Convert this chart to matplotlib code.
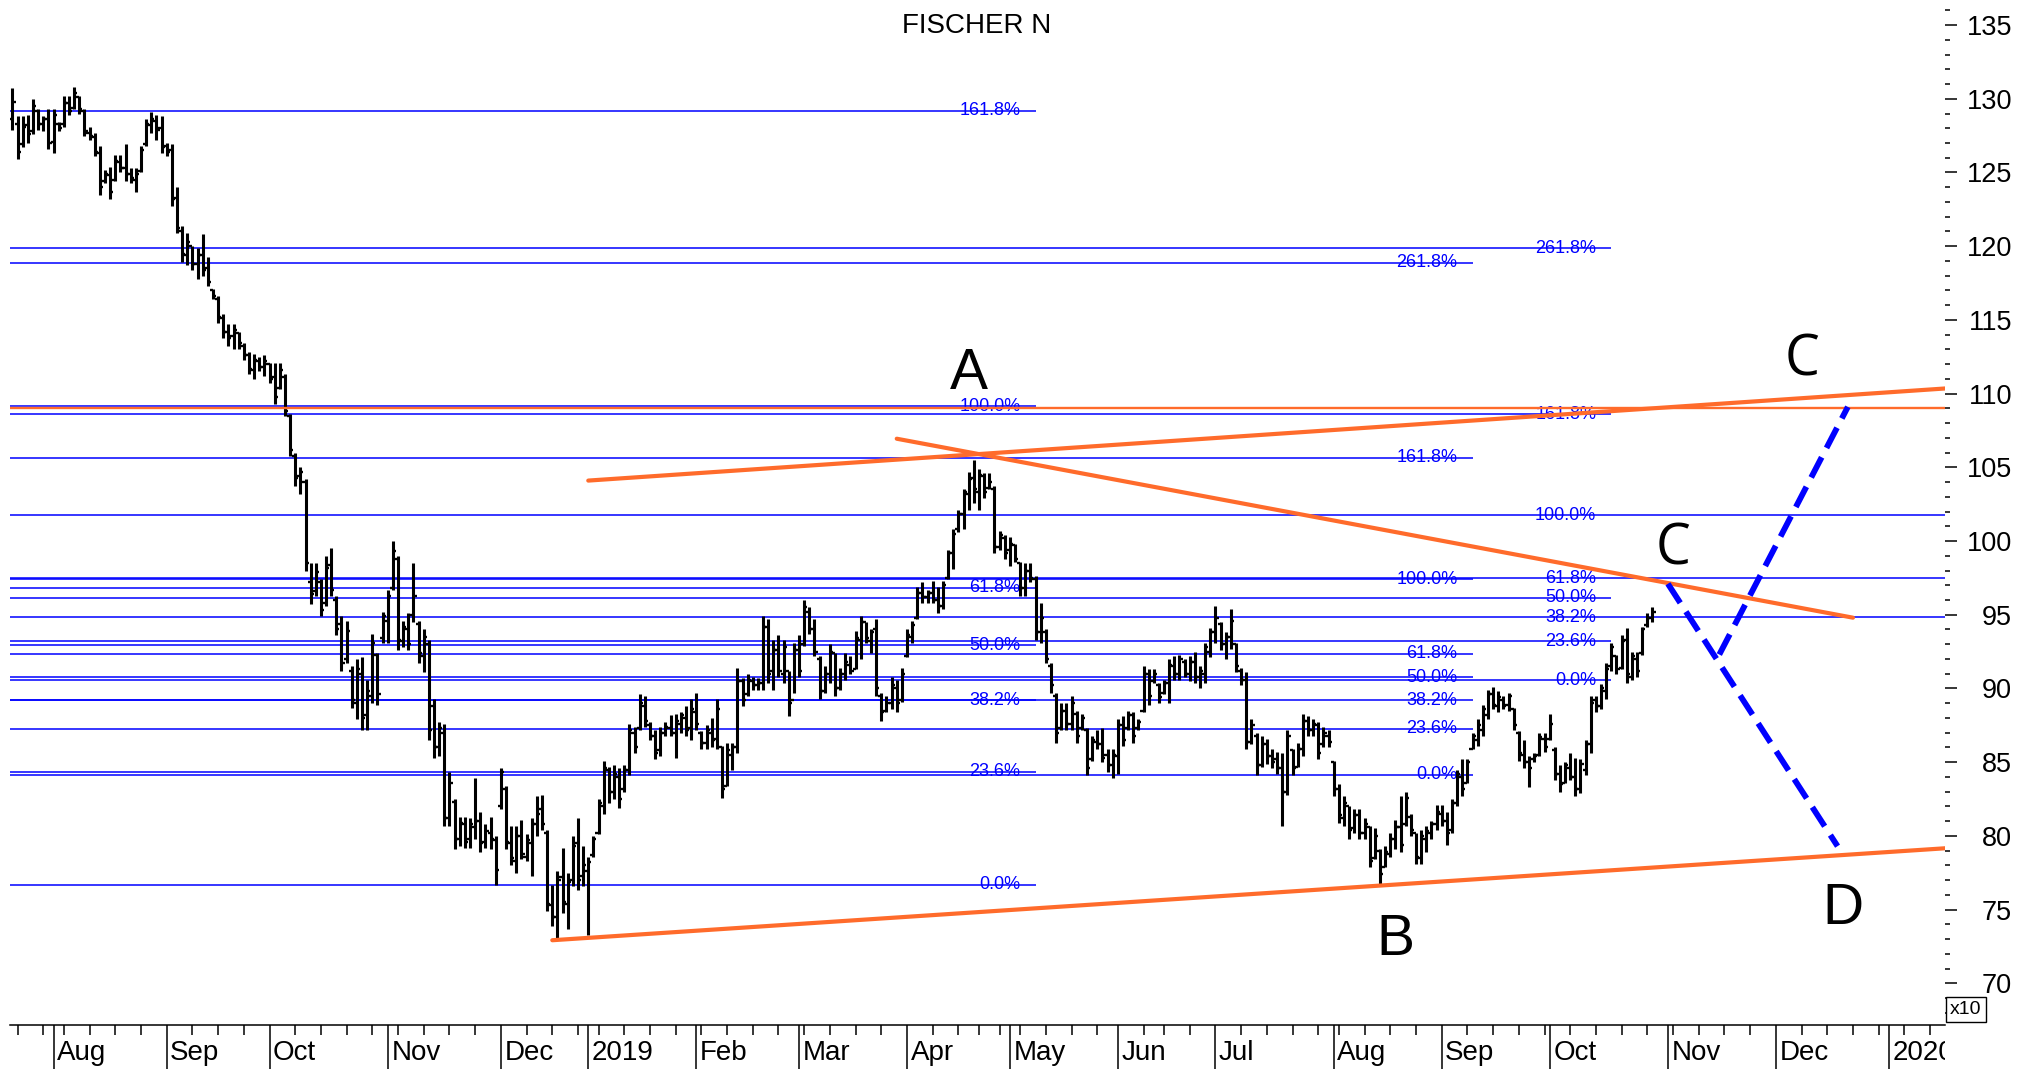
import numpy as np
import pandas as pd
import matplotlib
matplotlib.use("Agg")
import matplotlib.pyplot as plt
from matplotlib.ticker import FixedLocator
from matplotlib.transforms import Bbox, TransformedBbox, ScaledTranslation, blended_transform_factory

plt.rcParams['font.family'] = ['Liberation Sans', 'DejaVu Sans']

# ---------------- data ----------------
TITLE = "FISCHER N"
FIRST_BAR = "2018-07-20"
HOLIDAYS = ["2018-08-01", "2018-12-24", "2018-12-25", "2018-12-26", "2018-12-31",
            "2019-01-01", "2019-01-02", "2019-04-19", "2019-04-22", "2019-05-01",
            "2019-05-30", "2019-06-10", "2019-08-01"]

HIGHS = [130.7, 128.8, 128.8, 128.9, 130.0, 129.3, 128.8, 129.3,
         129.3, 128.4, 130.2, 130.2, 130.8, 130.2, 129.3, 128.1, 127.7, 126.8,
         125.2, 125.4, 126.2, 126.2, 126.9, 125.3, 125.3, 126.8, 128.6, 129.1,
         128.9, 128.8, 127.0, 126.9, 124.0, 121.4, 120.9, 120.0, 119.9, 120.8,
         119.3, 117.1, 116.6, 115.4, 114.7, 114.7, 114.2, 113.4, 112.8, 112.7,
         112.5, 112.6, 112.1, 112.1, 112.1, 111.3, 108.6, 106.0, 105.0, 104.2,
         98.5, 98.5, 97.4, 99.0, 99.5, 96.3, 94.9, 94.6, 91.5, 92.0,
         92.1, 90.6, 93.7, 92.4, 95.2, 96.7, 100.0, 99.0, 94.6, 95.1,
         98.5, 94.6, 94.0, 93.3, 89.3, 87.7, 87.6, 84.3, 82.5, 81.3,
         81.3, 81.2, 83.9, 81.6, 80.8, 81.3, 80.0, 84.6, 83.4, 80.7,
         80.7, 81.1, 80.1, 81.2, 82.7, 82.8, 80.4, 76.7, 77.6, 79.2,
         77.5, 80.0, 81.2, 79.3, 78.6, 80.0, 82.5, 85.1, 84.7, 84.8,
         84.6, 84.8, 87.6, 87.4, 89.6, 89.5, 87.7, 87.2, 87.4, 87.7,
         88.2, 88.3, 88.4, 88.8, 89.3, 89.7, 87.1, 87.5, 88.0, 89.3,
         86.1, 86.3, 86.3, 91.4, 90.7, 91.0, 90.8, 90.7, 94.9, 94.7,
         93.3, 93.6, 93.3, 91.2, 93.1, 93.6, 96.0, 95.5, 94.7, 92.2,
         91.5, 93.0, 92.4, 91.4, 92.4, 92.2, 93.9, 94.9, 94.5, 94.0,
         94.7, 89.7, 89.5, 90.8, 90.6, 91.4, 94.0, 94.6, 96.9, 97.2,
         96.7, 97.3, 96.9, 97.3, 99.4, 100.8, 102.1, 103.5, 104.7, 105.5,
         104.9, 104.6, 104.6, 103.7, 100.7, 100.4, 100.3, 99.8, 98.6, 98.5,
         98.5, 97.6, 95.8, 94.0, 91.7, 89.7, 89.0, 89.0, 89.5, 88.5,
         88.3, 87.3, 86.8, 87.2, 87.3, 85.9, 85.9, 87.9, 88.1, 88.5,
         88.4, 87.9, 91.5, 91.3, 91.3, 90.4, 90.6, 92.0, 92.2, 92.3,
         92.0, 92.2, 92.5, 91.5, 93.1, 94.1, 95.6, 94.5, 93.8, 95.4,
         93.1, 91.4, 91.1, 87.9, 87.0, 86.8, 86.6, 85.9, 85.7, 85.6,
         87.2, 85.9, 86.3, 88.3, 88.1, 87.9, 87.7, 87.4, 87.2, 85.1,
         83.5, 82.7, 82.0, 81.8, 81.8, 81.2, 80.7, 80.5, 79.1, 79.3,
         80.2, 81.1, 82.7, 83.0, 81.5, 80.2, 80.4, 80.7, 81.0, 82.1,
         82.1, 81.6, 82.5, 84.5, 85.2, 85.2, 87.0, 87.9, 88.9, 89.9,
         90.1, 89.8, 89.5, 89.7, 88.7, 87.1, 86.5, 85.4, 85.6, 87.0,
         87.0, 88.3, 86.0, 84.8, 85.0, 85.6, 85.3, 85.2, 86.5, 89.5,
         89.5, 90.3, 91.7, 93.1, 92.3, 93.6, 94.1, 92.5, 92.5, 94.2,
         95.1, 95.5]

LOWS = [127.9, 125.9, 126.7, 127.0, 127.6, 127.9, 127.8, 126.6,
        126.3, 127.8, 128.1, 128.9, 129.3, 129.0, 127.5, 127.2, 126.1, 123.5,
        124.3, 123.2, 124.4, 125.0, 124.4, 124.3, 123.7, 125.0, 126.8, 127.7,
        127.2, 126.3, 126.1, 122.7, 120.9, 118.9, 118.7, 118.4, 117.8, 118.0,
        117.3, 116.4, 114.8, 113.8, 113.2, 113.0, 113.0, 112.3, 111.3, 111.0,
        111.5, 111.2, 110.7, 109.3, 110.3, 108.5, 105.8, 103.7, 103.2, 98.0,
        95.7, 96.3, 94.9, 95.6, 96.3, 93.6, 91.2, 91.7, 88.7, 87.9,
        87.2, 87.2, 89.0, 88.9, 93.1, 93.1, 96.7, 92.6, 92.8, 92.6,
        94.5, 91.7, 91.1, 86.5, 85.3, 85.4, 80.7, 80.7, 79.1, 79.3,
        79.2, 79.2, 79.8, 78.9, 79.2, 79.1, 76.7, 81.8, 79.1, 78.0,
        77.5, 78.4, 78.3, 77.3, 80.0, 80.4, 74.9, 73.9, 73.1, 74.8,
        73.7, 76.6, 76.3, 76.6, 73.3, 78.6, 80.1, 81.5, 82.2, 82.5,
        81.9, 83.0, 84.1, 85.6, 87.2, 87.4, 86.5, 85.2, 85.4, 86.8,
        86.8, 85.3, 87.0, 86.8, 86.5, 87.2, 85.9, 85.9, 86.0, 85.9,
        82.6, 83.4, 84.5, 85.6, 88.8, 89.5, 89.9, 89.9, 89.9, 90.4,
        89.9, 90.8, 90.4, 88.1, 89.7, 90.8, 92.9, 93.7, 92.2, 89.3,
        89.7, 90.4, 89.5, 89.9, 90.6, 91.0, 91.3, 92.0, 93.1, 92.4,
        89.5, 87.8, 88.4, 88.6, 88.4, 89.1, 92.1, 93.1, 94.7, 95.8,
        95.8, 95.8, 95.1, 95.4, 97.4, 98.1, 100.6, 100.8, 102.1, 102.6,
        102.1, 102.9, 103.5, 99.2, 99.4, 98.8, 98.3, 98.6, 96.3, 96.3,
        97.2, 93.3, 93.1, 91.7, 89.7, 86.3, 87.2, 87.2, 87.2, 86.3,
        87.2, 84.1, 85.1, 85.9, 85.0, 84.3, 83.9, 84.2, 86.1, 87.2,
        86.3, 87.2, 88.4, 88.9, 90.4, 89.0, 89.6, 89.0, 90.6, 90.6,
        90.8, 90.5, 90.4, 90.0, 90.4, 92.1, 93.1, 92.6, 92.0, 92.7,
        91.1, 90.2, 85.9, 86.2, 84.1, 84.7, 84.9, 84.6, 84.2, 80.7,
        82.8, 84.1, 84.7, 85.4, 86.8, 86.8, 85.2, 86.0, 86.0, 82.7,
        80.9, 80.7, 79.8, 80.2, 79.8, 79.8, 77.9, 78.4, 76.6, 77.9,
        78.6, 79.1, 78.9, 80.7, 80.0, 78.1, 78.1, 78.9, 79.8, 80.4,
        80.7, 79.4, 80.2, 82.0, 82.7, 83.6, 85.9, 86.1, 86.8, 87.9,
        88.6, 88.4, 88.6, 88.5, 87.2, 85.1, 84.6, 83.3, 85.0, 85.4,
        85.7, 86.5, 83.8, 83.0, 83.6, 83.8, 82.7, 82.9, 84.1, 85.6,
        88.4, 88.6, 89.3, 91.2, 91.0, 91.3, 90.4, 90.6, 90.8, 92.3,
        94.2, 94.5]

OPENS = [128.6, 128.3, 126.9, 128.2, 127.8, 129.2, 128.3, 128.6,
         127.1, 128.3, 128.3, 129.7, 129.4, 130.1, 129.2, 127.7, 127.4, 126.3,
         124.4, 124.8, 124.5, 125.7, 125.3, 124.9, 124.5, 125.1, 126.9, 128.2,
         128.5, 128.0, 126.8, 126.5, 123.3, 121.0, 119.4, 120.0, 118.8, 119.4,
         118.5, 117.0, 116.4, 115.1, 114.2, 113.9, 114.1, 113.2, 112.6, 111.6,
         112.2, 111.8, 112.0, 111.1, 110.4, 111.1, 108.5, 105.8, 104.4, 104.0,
         97.2, 96.6, 97.2, 95.8, 98.4, 96.0, 94.4, 92.0, 91.2, 89.0,
         91.0, 88.2, 89.5, 92.3, 93.4, 94.6, 96.8, 98.8, 93.2, 94.0,
         95.0, 94.4, 92.2, 93.0, 88.8, 86.0, 87.0, 81.2, 82.3, 79.8,
         80.8, 79.8, 80.6, 81.0, 79.6, 80.2, 79.7, 82.0, 83.2, 79.5,
         78.3, 80.0, 78.6, 79.5, 80.8, 81.8, 80.2, 75.3, 74.5, 77.2,
         75.4, 77.0, 79.5, 77.3, 77.6, 78.7, 80.2, 82.0, 84.5, 83.0,
         84.0, 83.2, 84.5, 87.0, 87.3, 88.8, 87.5, 86.8, 85.8, 87.0,
         87.3, 87.0, 87.6, 88.0, 87.3, 88.4, 87.0, 86.3, 87.0, 86.6,
         86.0, 83.4, 85.5, 86.0, 90.5, 89.6, 90.5, 90.2, 90.4, 94.2,
         91.2, 92.6, 91.0, 91.2, 89.2, 92.6, 93.0, 95.2, 94.0, 92.0,
         89.8, 91.0, 92.4, 90.0, 91.0, 91.6, 91.3, 93.3, 94.5, 93.2,
         94.0, 89.5, 88.5, 89.0, 90.0, 89.2, 92.2, 93.5, 94.8, 96.5,
         96.2, 96.5, 96.0, 95.6, 97.5, 99.2, 100.8, 101.8, 103.2, 104.3,
         103.3, 104.4, 103.6, 103.5, 99.6, 100.2, 99.4, 99.7, 98.5, 96.8,
         98.0, 97.4, 93.8, 93.8, 91.5, 89.5, 87.3, 88.5, 87.6, 88.3,
         87.3, 87.2, 85.2, 86.4, 86.2, 85.5, 84.8, 85.4, 87.5, 87.3,
         88.2, 87.3, 88.5, 91.0, 90.5, 90.2, 89.7, 90.4, 91.5, 91.0,
         91.8, 91.0, 91.8, 90.8, 91.0, 92.5, 93.8, 94.4, 93.0, 93.5,
         93.0, 91.2, 90.6, 86.4, 86.8, 84.8, 86.2, 85.4, 85.2, 84.6,
         83.0, 85.8, 84.7, 85.9, 87.8, 87.2, 87.5, 86.2, 86.8, 85.0,
         83.2, 81.2, 82.0, 80.5, 81.4, 80.2, 80.6, 78.5, 79.0, 77.9,
         78.8, 79.8, 80.6, 80.8, 81.3, 80.2, 78.5, 79.8, 80.2, 80.8,
         81.5, 81.0, 80.4, 82.2, 84.0, 83.6, 85.9, 86.5, 87.2, 88.2,
         89.6, 88.8, 89.2, 88.9, 88.6, 87.0, 85.5, 85.0, 85.2, 85.5,
         86.6, 86.6, 85.8, 84.2, 83.6, 84.6, 84.0, 83.2, 84.5, 86.2,
         89.2, 88.8, 89.8, 91.5, 92.2, 91.4, 93.3, 90.8, 92.0, 92.4,
         94.3, 94.8]

CLOSES = [129.8, 126.4, 128.1, 127.6, 129.5, 128.3, 128.6, 127.0,
          128.9, 128.0, 129.7, 129.2, 130.4, 129.3, 127.8, 127.5, 126.4, 124.0,
          124.9, 123.7, 125.8, 125.3, 124.9, 124.6, 124.9, 126.5, 128.3, 128.6,
          127.9, 126.7, 126.4, 123.2, 121.2, 119.5, 120.3, 118.8, 119.4, 118.4,
          117.6, 116.6, 115.2, 114.2, 113.8, 114.3, 113.4, 112.6, 111.7, 112.3,
          111.8, 112.2, 111.0, 109.8, 111.6, 108.8, 106.2, 104.3, 104.7, 98.5,
          96.4, 97.9, 95.3, 98.2, 96.7, 94.0, 91.7, 93.9, 89.2, 91.3,
          88.0, 89.8, 93.1, 89.6, 94.9, 96.3, 99.3, 93.3, 94.2, 93.0,
          96.3, 92.4, 93.5, 87.2, 86.0, 87.3, 81.2, 83.6, 79.8, 80.9,
          79.6, 80.8, 81.0, 79.5, 80.3, 79.8, 77.7, 84.3, 79.6, 78.5,
          80.0, 78.8, 79.7, 80.8, 81.5, 80.8, 75.4, 74.5, 77.0, 75.5,
          76.9, 79.3, 77.0, 78.0, 78.2, 79.8, 82.2, 84.6, 83.0, 84.2,
          82.5, 84.5, 87.2, 86.0, 89.0, 87.8, 86.8, 85.6, 87.0, 87.4,
          87.0, 87.8, 88.2, 87.2, 88.6, 87.6, 86.3, 87.2, 86.5, 88.6,
          83.2, 85.8, 86.0, 90.5, 89.2, 90.6, 90.2, 90.4, 94.2, 91.0,
          92.6, 91.2, 92.8, 89.0, 92.6, 91.2, 95.5, 94.0, 92.5, 89.8,
          91.0, 92.5, 90.0, 91.0, 91.8, 91.2, 93.4, 94.5, 93.4, 93.8,
          90.0, 88.4, 89.0, 90.2, 89.0, 91.0, 93.6, 94.3, 96.5, 96.2,
          96.5, 96.0, 95.6, 97.0, 99.2, 100.5, 101.8, 103.3, 104.2, 103.5,
          104.5, 103.3, 104.0, 99.6, 100.4, 99.2, 99.8, 98.8, 96.8, 98.0,
          97.5, 93.8, 94.8, 92.0, 90.2, 87.0, 88.5, 87.6, 89.0, 86.8,
          88.0, 84.6, 86.5, 86.2, 85.3, 84.8, 85.5, 87.5, 86.5, 88.2,
          86.8, 87.7, 91.0, 89.5, 91.0, 89.4, 90.4, 91.6, 91.0, 92.0,
          91.0, 91.8, 90.8, 91.2, 92.8, 93.8, 94.8, 93.0, 93.5, 94.6,
          91.5, 90.6, 86.4, 87.5, 84.8, 86.2, 85.4, 85.0, 84.6, 83.0,
          86.8, 84.6, 85.9, 87.8, 87.2, 87.6, 85.6, 87.0, 86.4, 83.2,
          81.4, 82.2, 80.4, 81.4, 80.2, 80.8, 78.3, 80.0, 77.4, 78.9,
          79.8, 80.6, 79.4, 82.6, 80.4, 78.6, 80.0, 80.3, 80.8, 81.6,
          81.0, 80.2, 82.2, 84.2, 83.2, 85.0, 86.8, 87.5, 88.6, 89.6,
          88.9, 89.4, 88.8, 89.5, 87.5, 85.6, 85.0, 84.6, 85.4, 86.7,
          86.0, 87.6, 84.2, 83.5, 84.8, 84.0, 83.2, 84.9, 86.2, 89.0,
          88.8, 90.0, 91.3, 92.8, 91.3, 93.2, 91.0, 92.2, 91.2, 94.0,
          94.8, 95.2]

FIB_LABELS_1 = ["161.8%", "100.0%", "61.8%", "50.0%", "38.2%", "23.6%", "0.0%"]
FIB_LEVELS_1 = [129.2, 109.13, 96.83, 92.93, 89.2, 84.35, 76.68]
FIB_END_1 = "2019-05-09"

FIB_LABELS_2 = ["261.8%", "161.8%", "100.0%", "61.8%", "50.0%", "38.2%", "23.6%", "0.0%"]
FIB_LEVELS_2 = [118.89, 105.65, 97.42, 92.35, 90.75, 89.2, 87.25, 84.15]
FIB_END_2 = "2019-09-10"

FIB_LABELS_3 = ["261.8%", "161.8%", "100.0%", "61.8%", "50.0%", "38.2%", "23.6%", "0.0%"]
FIB_LEVELS_3 = [119.85, 108.6, 101.76, 97.48, 96.16, 94.83, 93.2, 90.55]
FIB_END_3 = "2019-10-17"
FIB_EXTENDED_3 = ["100.0%", "61.8%", "38.2%"]

RESISTANCE = 109.05
TRENDLINES = [("2019-01-03", 104.1, "2020-01-16", 110.35),
              ("2019-03-28", 106.94, "2019-12-23", 94.8),
              ("2018-12-17", 72.92, "2020-01-16", 79.16)]
PROJECTIONS = [("2019-11-01", 97.1, "2019-12-18", 79.3),
               ("2019-11-15", 92.3, "2019-12-20", 109.1)]

WAVE_TEXT = ["A", "C", "C", "B", "D"]
WAVE_DATES = ["2019-04-17", "2019-12-09", "2019-11-04", "2019-08-20", "2019-12-19"]
WAVE_VALUES = [110.28, 111.2, 98.4, 71.95, 74.0]

MONTH_NAMES = ["", "Jan", "Feb", "Mar", "Apr", "May", "Jun", "Jul", "Aug", "Sep", "Oct", "Nov", "Dec"]

# ---------------- calendar ----------------
hist = pd.bdate_range("2018-07-02", "2019-10-31", freq="C", holidays=HOLIDAYS)
future = pd.bdate_range("2019-11-01", "2020-01-31")
cal = hist.append(future)


def xpos(d):
    return cal.get_loc(pd.Timestamp(d))


x0 = xpos("2018-08-02")
XL = (x0 - 8.48, x0 + 367.9)

# ---------------- figure ----------------
W, H = 2017, 1069
fig = plt.figure(figsize=(W / 100, H / 100), dpi=100)
ax = fig.add_axes([10 / W, 44 / H, 1935 / W, 1025 / H])
ax.set_xlim(*XL)
ax.set_ylim(67.17, 136.70)
for s in ["top", "left", "right"]:
    ax.spines[s].set_visible(False)
ax.spines["bottom"].set_linewidth(1.1)

BLUE = "#0000FF"
ORANGE = "#FF6B2B"
px = 72 / 100  # points per pixel

# fib levels
for labels, levels, end in [(FIB_LABELS_1, FIB_LEVELS_1, FIB_END_1),
                            (FIB_LABELS_2, FIB_LEVELS_2, FIB_END_2),
                            (FIB_LABELS_3, FIB_LEVELS_3, FIB_END_3)]:
    xe = xpos(end)
    ext = FIB_EXTENDED_3 if levels is FIB_LEVELS_3 else []
    for lab, lv in zip(labels, levels):
        right = XL[1] if lab in ext else xe
        ax.hlines(lv, XL[0], right, color=BLUE, lw=1.1, zorder=2)
        tr = ax.transData + ScaledTranslation(-15 / 100, 0, fig.dpi_scale_trans)
        ax.text(xe, lv, lab, transform=tr, ha="right", va="center", color=BLUE,
                fontsize=13, zorder=2)

# OHLC bars
n = min(len(HIGHS), len(LOWS), len(OPENS), len(CLOSES))
xs = xpos(FIRST_BAR) + np.arange(n)
hi = np.array(HIGHS[:n]); lo = np.array(LOWS[:n])
op = np.array(OPENS[:n]); cl = np.array(CLOSES[:n])
ax.vlines(xs, lo, hi, color="black", lw=2.2, zorder=3)
ax.hlines(op, xs - 0.6, xs, color="black", lw=1.7, zorder=3)
ax.hlines(cl, xs, xs + 0.6, color="black", lw=1.7, zorder=3)

# orange lines
ax.axhline(RESISTANCE, color=ORANGE, lw=1.7, zorder=4)
for d1, v1, d2, v2 in TRENDLINES:
    ax.plot([xpos(d1), xpos(d2)], [v1, v2], color=ORANGE, lw=3.0,
            solid_capstyle="round", zorder=5)

# projections
for d1, v1, d2, v2 in PROJECTIONS:
    ax.plot([xpos(d1), xpos(d2)], [v1, v2], color=BLUE, lw=4.2,
            dashes=(3.9, 1.8), zorder=6)

# wave labels
for t, d, v in zip(WAVE_TEXT, WAVE_DATES, WAVE_VALUES):
    if t == "C":
        ax.text(xpos(d), v, t, ha="center", va="baseline", fontsize=40,
                family=["Open Sans", "DejaVu Sans"], zorder=7)
    else:
        ax.text(xpos(d), v, t, ha="center", va="baseline", fontsize=41, zorder=7)

# y axis on the right
ax.yaxis.set_major_locator(FixedLocator(list(range(70, 136, 5))))
ax.yaxis.set_minor_locator(FixedLocator(list(range(68, 137))))
ax.yaxis.tick_right()
ax.tick_params(axis="y", which="major", direction="out", length=12 * px, width=1.1,
               pad=55 * px, labelsize=19.5, right=True, left=False,
               labelright=True, labelleft=False)
ax.tick_params(axis="y", which="minor", direction="out", length=5 * px, width=1.1,
               right=True, left=False)
plt.setp(ax.yaxis.get_majorticklabels(), ha="right")

# x axis: months (major) and weeks (minor)
idx = np.arange(len(cal))
month_pos, month_lab = [], []
for i in idx:
    if i == 0 or cal[i].month != cal[i - 1].month:
        if XL[0] <= i <= XL[1]:
            month_pos.append(i)
            month_lab.append(str(cal[i].year) if cal[i].month == 1 else MONTH_NAMES[cal[i].month])
week_pos = [i for i in idx if (i == 0 or cal[i].weekday() < cal[i - 1].weekday()
                               or (cal[i] - cal[i - 1]).days >= 7) and XL[0] <= i <= XL[1]]
ax.xaxis.set_major_locator(FixedLocator(month_pos))
ax.xaxis.set_minor_locator(FixedLocator(week_pos))
ax.tick_params(axis="x", which="major", direction="out", length=44 * px, width=1.1,
               labelbottom=False)
ax.tick_params(axis="x", which="minor", direction="out", length=10 * px, width=1.1)

clip = TransformedBbox(Bbox.from_extents(10 / W, 0, 1945 / W, 1), fig.transFigure)
btr = blended_transform_factory(ax.transData, fig.transFigure)
for mp, ml in zip(month_pos, month_lab):
    t = fig.text(mp + 0.68, 9 / H, ml, transform=btr, ha="left", va="baseline",
                 fontsize=20)
    t.set_clip_box(clip)
    t.set_clip_on(True)

# title and scale box
fig.text(977 / W, 1 - 26 / H, TITLE, ha="center", va="center", fontsize=20)
fig.text(1966 / W, 1 - 1009.5 / H, "x10", ha="center", va="center", fontsize=14,
         bbox=dict(boxstyle="square,pad=0.2", fc="white", ec="black", lw=1.0))

fig.savefig("out.png", dpi=100)
